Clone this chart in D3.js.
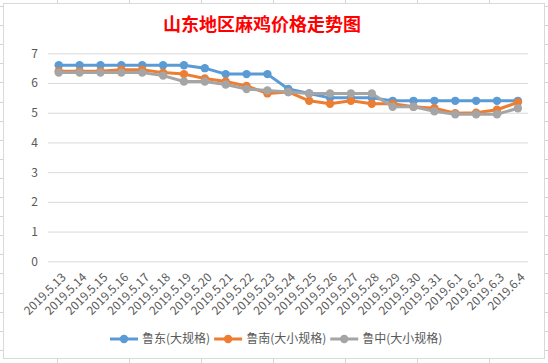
<!DOCTYPE html>
<html>
<head>
<meta charset="utf-8">
<script src="https://cdn.jsdelivr.net/npm/d3@7"></script>
<style>
  body { margin: 0; background: #fff; }
  svg { display: block; }
  text { font-family: "Noto Sans CJK SC", "Microsoft YaHei", sans-serif; }
</style>
</head>
<body>
<svg></svg>
<script>
const width = 548;
const height = 363;

const dates = ["2019.5.13", "2019.5.14", "2019.5.15", "2019.5.16", "2019.5.17", "2019.5.18",
  "2019.5.19", "2019.5.20", "2019.5.21", "2019.5.22", "2019.5.23", "2019.5.24", "2019.5.25",
  "2019.5.26", "2019.5.27", "2019.5.28", "2019.5.29", "2019.5.30", "2019.5.31", "2019.6.1",
  "2019.6.2", "2019.6.3", "2019.6.4"];

const ludong = [6.6, 6.6, 6.6, 6.6, 6.6, 6.6, 6.6, 6.5, 6.3, 6.3, 6.3, 5.8, 5.65, 5.5, 5.5, 5.5,
  5.4, 5.4, 5.4, 5.4, 5.4, 5.4, 5.4];
const lunan = [6.4, 6.4, 6.4, 6.45, 6.45, 6.35, 6.3, 6.15, 6.05, 5.9, 5.65, 5.7, 5.4, 5.3, 5.4,
  5.3, 5.3, 5.2, 5.15, 4.98, 5.0, 5.1, 5.35];
const luzhong = [6.35, 6.35, 6.35, 6.35, 6.35, 6.25, 6.05, 6.05, 5.95, 5.8, 5.75, 5.7, 5.65,
  5.65, 5.65, 5.65, 5.2, 5.2, 5.05, 4.95, 4.95, 4.95, 5.15];

const seriesNames = ["鲁东(大规格)", "鲁南(大小规格)", "鲁中(大小规格)"];
const seriesColors = ["#5B9BD5", "#ED7D31", "#A5A5A5"];
const yTicks = [0, 1, 2, 3, 4, 5, 6, 7];

const series = [ludong, lunan, luzhong].map((vals, i) => ({
  name: seriesNames[i],
  color: seriesColors[i],
  values: vals
}));

const svg = d3.select("svg")
  .attr("width", width)
  .attr("height", height);

// spreadsheet grid peeking out round the chart
const rowLines = d3.range(6, height, 19.1);
const colLines = d3.range(57, width, 72);
svg.append("g")
  .attr("stroke", "#d4d4d4")
  .selectAll("line")
  .data(rowLines)
  .join("line")
  .attr("x1", 0).attr("x2", width)
  .attr("y1", d => Math.round(d) + 0.5).attr("y2", d => Math.round(d) + 0.5);
svg.append("g")
  .attr("stroke", "#d4d4d4")
  .selectAll("line")
  .data(colLines)
  .join("line")
  .attr("y1", 0).attr("y2", height)
  .attr("x1", d => Math.round(d) + 0.5).attr("x2", d => Math.round(d) + 0.5);

// chart area
svg.append("rect")
  .attr("x", 3.5).attr("y", 3.5)
  .attr("width", 541).attr("height", 355)
  .attr("fill", "#fff")
  .attr("stroke", "#d9d9d9");

svg.append("text")
  .attr("x", 262).attr("y", 31)
  .attr("text-anchor", "middle")
  .attr("fill", "#ff0000")
  .attr("font-size", 18)
  .attr("font-weight", "bold")
  .text("山东地区麻鸡价格走势图");

const x = d3.scaleBand()
  .domain(dates)
  .range([48.3, 528.3]);

const y = d3.scaleLinear()
  .domain([0, 7])
  .range([261.3, 53.3]);

const cx = d => x(d) + x.bandwidth() / 2;

// gridlines + y labels
const yAxis = svg.append("g")
  .attr("transform", "translate(48,0)")
  .call(d3.axisLeft(y).tickValues(yTicks).tickSize(-480).tickPadding(10).tickFormat(d3.format("d")));
yAxis.select(".domain").remove();
yAxis.selectAll(".tick line")
  .attr("stroke", "#d9d9d9")
  .attr("stroke-width", 1);
yAxis.selectAll(".tick text")
  .attr("fill", "#595959")
  .attr("font-size", 12)
  .attr("font-family", "Liberation Sans, Arial, sans-serif");

// x labels
svg.append("g")
  .selectAll("text")
  .data(dates)
  .join("text")
  .attr("transform", d => `translate(${cx(d) + 5},${275}) rotate(-45)`)
  .attr("text-anchor", "end")
  .attr("dy", "0.35em")
  .attr("fill", "#595959")
  .attr("font-size", 12)
  .attr("font-family", "Liberation Sans, Arial, sans-serif")
  .text(d => d);

const line = d3.line()
  .x((d, i) => cx(dates[i]))
  .y(d => y(d));

const lines = svg.append("g");
series.forEach(s => {
  const g = lines.append("g");
  g.append("path")
    .datum(s.values)
    .attr("fill", "none")
    .attr("stroke", s.color)
    .attr("stroke-width", 3)
    .attr("stroke-linejoin", "round")
    .attr("d", line);
  g.selectAll("circle")
    .data(s.values)
    .join("circle")
    .attr("cx", (d, i) => cx(dates[i]))
    .attr("cy", d => y(d))
    .attr("r", 4.2)
    .attr("fill", s.color);
});

// legend
const legend = svg.append("g").attr("transform", "translate(110,339)");
let lx = 0;
series.forEach(s => {
  const g = legend.append("g").attr("transform", `translate(${lx},0)`);
  g.append("line")
    .attr("x1", 0).attr("x2", 28)
    .attr("stroke", s.color)
    .attr("stroke-width", 3);
  g.append("circle")
    .attr("cx", 14).attr("r", 4.2)
    .attr("fill", s.color);
  const t = g.append("text")
    .attr("x", 32)
    .attr("dy", "0.35em")
    .attr("fill", "#595959")
    .attr("font-size", 12)
    .text(s.name);
  lx += 32 + t.node().getComputedTextLength() + 4;
});
</script>
</body>
</html>
